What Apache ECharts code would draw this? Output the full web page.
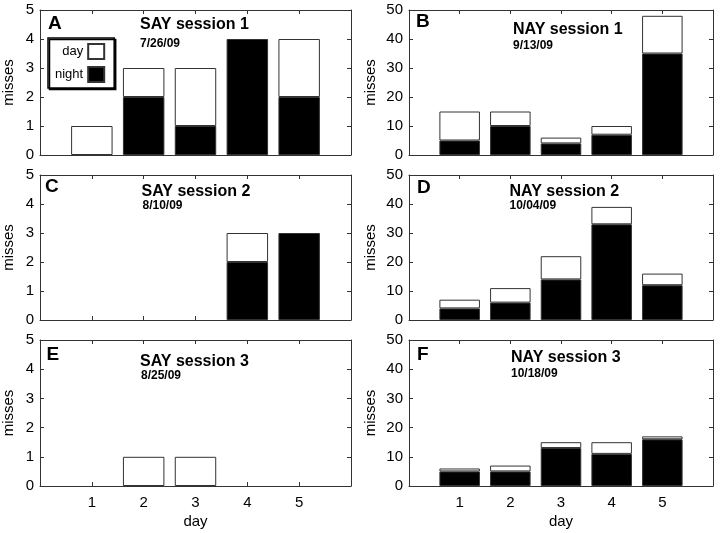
<!DOCTYPE html>
<html>
<head>
<meta charset="utf-8">
<script src="https://cdn.jsdelivr.net/npm/echarts@6/dist/echarts.min.js"></script>
<style>
html,body{margin:0;padding:0;background:#fff;}
#chart{width:724px;height:533px;}
</style>
</head>
<body>
<div id="chart"></div>
<script>
// ---- data ----
// axis positions 0..6 (MATLAB xlim [0 6]); days 1..5 carry the bars
const xCategories = ['0', '1', '2', '3', '4', '5', '6'];
const xTickLabels = ['', '1', '2', '3', '4', '5', ''];
const sayTicks = [0, 1, 2, 3, 4, 5];
const nayTicks = [0, 10, 20, 30, 40, 50];

const sayNight1 = [0, 2, 1, 4, 2];
const sayDay1   = [1, 1, 2, 0, 2];
const nayNight1 = [5, 10, 4, 7, 35];
const nayDay1   = [10, 5, 2, 3, 13];
const sayNight2 = [0, 0, 0, 2, 3];
const sayDay2   = [0, 0, 0, 1, 0];
const nayNight2 = [4, 6, 14, 33, 12];
const nayDay2   = [3, 5, 8, 6, 4];
const sayNight3 = [0, 0, 0, 0, 0];
const sayDay3   = [0, 1, 1, 0, 0];
const nayNight3 = [5, 5, 13, 11, 16];
const nayDay3   = [1, 2, 2, 4, 1];

const panelLetters = ['A', 'B', 'C', 'D', 'E', 'F'];
const panelTitles = ['SAY session 1', 'NAY session 1', 'SAY session 2', 'NAY session 2', 'SAY session 3', 'NAY session 3'];
const panelDates = ['7/26/09', '9/13/09', '8/10/09', '10/04/09', '8/25/09', '10/18/09'];
const nightData = [sayNight1, nayNight1, sayNight2, nayNight2, sayNight3, nayNight3];
const dayData = [sayDay1, nayDay1, sayDay2, nayDay2, sayDay3, nayDay3];
const legendNames = ['day', 'night'];

// ---- layout ----
const FONT = '"Liberation Sans", Arial, Helvetica, sans-serif';
const grids = [
  {left: 40, top: 10, width: 311, height: 145},
  {left: 409, top: 10, width: 304, height: 145},
  {left: 40, top: 175, width: 311, height: 145},
  {left: 409, top: 175, width: 304, height: 145},
  {left: 40, top: 340, width: 311, height: 146},
  {left: 409, top: 340, width: 304, height: 146}
];
const letterPos = [[48, 14.5], [416, 12.5], [45, 177.5], [417, 178], [46.5, 345.5], [417, 345.5]];
const titlePos = [[140, 16.5], [513, 21.5], [141.5, 183.5], [509.5, 184], [140, 353.5], [511, 350]];
const datePos = [[140, 37.6], [513, 39.3], [142.5, 200], [509.5, 200], [141, 370], [511, 367.3]];

const lineCol = '#333';
const titles = [];
const xAxes = [];
const yAxes = [];
const series = [];

// place the 5 day values on categories 1..5, leaving 0 and 6 empty; zero counts draw nothing
const onDays = arr => ['-'].concat(arr.map(v => (v === 0 ? '-' : v)), ['-']);

for (let i = 0; i < 6; i++) {
  const isNay = i % 2 === 1;
  const isBottom = i >= 4;
  const ticks = isNay ? nayTicks : sayTicks;
  titles.push({text: panelLetters[i], left: letterPos[i][0], top: letterPos[i][1], padding: 0,
    textStyle: {fontFamily: FONT, fontSize: 19, fontWeight: 'bold', color: '#000'}});
  titles.push({text: panelTitles[i], left: titlePos[i][0], top: titlePos[i][1], padding: 0,
    textStyle: {fontFamily: FONT, fontSize: 16, fontWeight: 'bold', color: '#000'}});
  titles.push({text: panelDates[i], left: datePos[i][0], top: datePos[i][1], padding: 0,
    textStyle: {fontFamily: FONT, fontSize: 12, fontWeight: 'bold', color: '#000'}});

  const common = {
    gridIndex: i, type: 'category', data: xCategories, boundaryGap: false,
    axisLine: {show: true, onZero: false, lineStyle: {color: lineCol, width: 1}},
    axisTick: {show: true, inside: true, length: 4, interval: 0, lineStyle: {color: lineCol}},
    splitLine: {show: false}
  };
  xAxes.push(Object.assign({}, common, {
    position: 'bottom',
    axisLabel: {show: isBottom, interval: 0, margin: 9, fontFamily: FONT, fontSize: 15, color: '#000',
      formatter: (v, idx) => xTickLabels[idx]},
    name: isBottom ? 'day' : '', nameLocation: 'middle', nameGap: 28,
    nameTextStyle: {fontFamily: FONT, fontSize: 15, color: '#000'}
  }));
  xAxes.push(Object.assign({}, common, {position: 'top', axisLabel: {show: false}}));

  const ycommon = {
    gridIndex: i, type: 'value', min: ticks[0], max: ticks[ticks.length - 1], interval: ticks[1] - ticks[0],
    axisLine: {show: true, onZero: false, lineStyle: {color: lineCol, width: 1}},
    axisTick: {show: true, inside: true, length: 4, lineStyle: {color: lineCol}},
    splitLine: {show: false}
  };
  yAxes.push(Object.assign({}, ycommon, {
    position: 'left',
    axisLabel: {show: true, margin: 6, fontFamily: FONT, fontSize: 15, color: '#000'},
    name: 'misses', nameLocation: 'middle', nameGap: isNay ? 31 : 24,
    nameTextStyle: {fontFamily: FONT, fontSize: 15, color: '#000'}
  }));
  yAxes.push(Object.assign({}, ycommon, {position: 'right', axisLabel: {show: false}}));

  series.push({
    type: 'bar', name: 'night', stack: 'p' + i, xAxisIndex: 2 * i, yAxisIndex: 2 * i,
    barWidth: '80%', itemStyle: {color: '#000', borderColor: lineCol, borderWidth: 1},
    data: onDays(nightData[i])
  });
  series.push({
    type: 'bar', name: 'day', stack: 'p' + i, xAxisIndex: 2 * i, yAxisIndex: 2 * i,
    barWidth: '80%', itemStyle: {color: '#fff', borderColor: lineCol, borderWidth: 1},
    data: onDays(dayData[i])
  });
}

const chart = echarts.init(document.getElementById('chart'), null, {renderer: 'canvas'});
chart.setOption({
  animation: false,
  backgroundColor: '#fff',
  title: titles,
  legend: {
    data: legendNames, orient: 'vertical', align: 'right', left: 48, top: 38,
    itemWidth: 16, itemHeight: 15, itemGap: 6, padding: [5, 9, 5, 7], icon: 'rect',
    selectedMode: false, backgroundColor: '#fff', borderColor: '#000', borderWidth: 1.5,
    shadowColor: '#000', shadowOffsetX: 1.5, shadowOffsetY: 1.5, shadowBlur: 0,
    textStyle: {fontFamily: FONT, fontSize: 13, color: '#000'}
  },
  grid: grids,
  xAxis: xAxes,
  yAxis: yAxes,
  series: series
});
</script>
</body>
</html>
